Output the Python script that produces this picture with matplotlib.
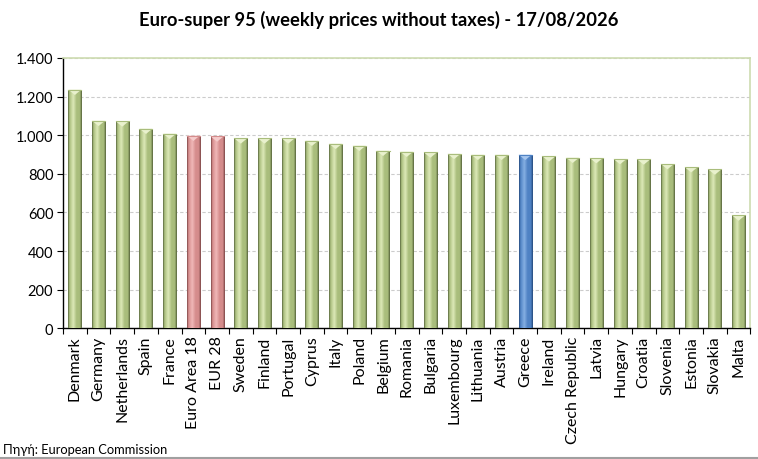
import numpy as np
import matplotlib
matplotlib.use("Agg")
import matplotlib.pyplot as plt
from matplotlib.patches import Polygon
from matplotlib.lines import Line2D
from matplotlib.colors import to_rgb
from matplotlib.ticker import FuncFormatter, MultipleLocator

countries = ["Denmark", "Germany", "Netherlands", "Spain", "France", "Euro Area 18",
             "EUR 28", "Sweden", "Finland", "Portugal", "Cyprus", "Italy", "Poland",
             "Belgium", "Romania", "Bulgaria", "Luxembourg", "Lithuania", "Austria",
             "Greece", "Ireland", "Czech Republic", "Latvia", "Hungary", "Croatia",
             "Slovenia", "Estonia", "Slovakia", "Malta"]
prices = [1236, 1075, 1072, 1034, 1008, 998, 994, 984, 984, 984, 972, 956, 946,
          920, 915, 911, 904, 899, 899, 899, 891, 884, 882, 877, 875, 851, 835, 823, 585]
highlight_red = ["Euro Area 18", "EUR 28"]
highlight_blue = ["Greece"]

title = "Euro-super 95 (weekly prices without taxes) - 17/08/2026"
source = "Πηγή: European Commission"

FONT = ["Lato", "DejaVu Sans"]
plt.rcParams["font.family"] = FONT

palettes = {
    "green": dict(dark="#55633a", mid="#a9bd7c", light="#dde9b8", cap="#e9f1cd"),
    "red": dict(dark="#7a4444", mid="#d58c8c", light="#f0b8b8", cap="#f6cccc"),
    "blue": dict(dark="#24487a", mid="#4f82c4", light="#86b0e3", cap="#a6c6ee"),
}

def gradient_row(p, n=64):
    stops = [(0.0, p["dark"]), (0.1, p["mid"]), (0.38, p["light"]),
             (0.62, p["mid"]), (0.85, p["mid"]), (1.0, p["dark"])]
    t = np.linspace(0, 1, n)
    pos = [s[0] for s in stops]
    cols = np.array([to_rgb(s[1]) for s in stops])
    row = np.stack([np.interp(t, pos, cols[:, k]) for k in range(3)], axis=-1)
    return row[np.newaxis, :, :]

fig = plt.figure(figsize=(7.58, 4.60), dpi=100)
fig.patch.set_facecolor("white")
ax = fig.add_axes([0.0831, 0.284, 0.9069, 0.588])

x = np.arange(len(countries))
bars = ax.bar(x, prices, width=0.55, color="none", edgecolor="none", zorder=3)

cap_h = 28
for name, bar in zip(countries, bars):
    if name in highlight_red:
        p = palettes["red"]
    elif name in highlight_blue:
        p = palettes["blue"]
    else:
        p = palettes["green"]
    x0 = bar.get_x()
    w = bar.get_width()
    h = bar.get_height()
    im = ax.imshow(gradient_row(p), extent=[x0, x0 + w, 0, h], aspect="auto",
                   interpolation="bilinear", zorder=3)
    im.set_clip_path(bar)
    cap = Polygon([[x0, h], [x0 + w, h], [x0 + w / 2, h - cap_h]], closed=True,
                  facecolor=p["cap"], edgecolor="none", zorder=4)
    ax.add_patch(cap)
    ax.add_line(Line2D([x0, x0 + w], [h, h], color=p["mid"], lw=0.8, zorder=4))

ax.set_xlim(-0.5, len(countries) - 0.5)
ax.set_ylim(0, 1400)
ax.yaxis.set_major_locator(MultipleLocator(200))
ax.yaxis.set_major_formatter(FuncFormatter(lambda v, _: f"{int(v):,}".replace(",", ".")))
ax.grid(axis="y", color="#cccccc", linestyle=(0, (3, 2)), linewidth=0.8, zorder=0)
ax.set_axisbelow(True)

ax.set_xticks(x)
ax.set_xticklabels(countries, rotation=90, fontsize=11.5, color="black")
ax.tick_params(axis="x", which="major", length=0, pad=5)
ax.set_xticks(np.arange(-0.5, len(countries), 1.0), minor=True)
ax.tick_params(axis="x", which="minor", length=4, width=0.8, color="black", direction="out")
ax.tick_params(axis="y", which="major", length=4, width=0.8, labelsize=10.5, pad=3)

for s in ["left", "bottom"]:
    ax.spines[s].set_color("black")
    ax.spines[s].set_linewidth(1.0)
for s in ["top", "right"]:
    ax.spines[s].set_color("#cddbb0")
    ax.spines[s].set_linewidth(1.2)

fig.text(0.5, 1 - 20 / 460, title, ha="center", va="center", fontsize=13.2,
         fontweight="bold", color="black")
fig.text(0.004, 1 - 450 / 460, source, ha="left", va="center", fontsize=9.3, color="black")
fig.add_artist(Line2D([0, 1], [1.5 / 460, 1.5 / 460], transform=fig.transFigure,
                      color="#a0a0a0", lw=1.5))

fig.savefig("out.png", dpi=100)
